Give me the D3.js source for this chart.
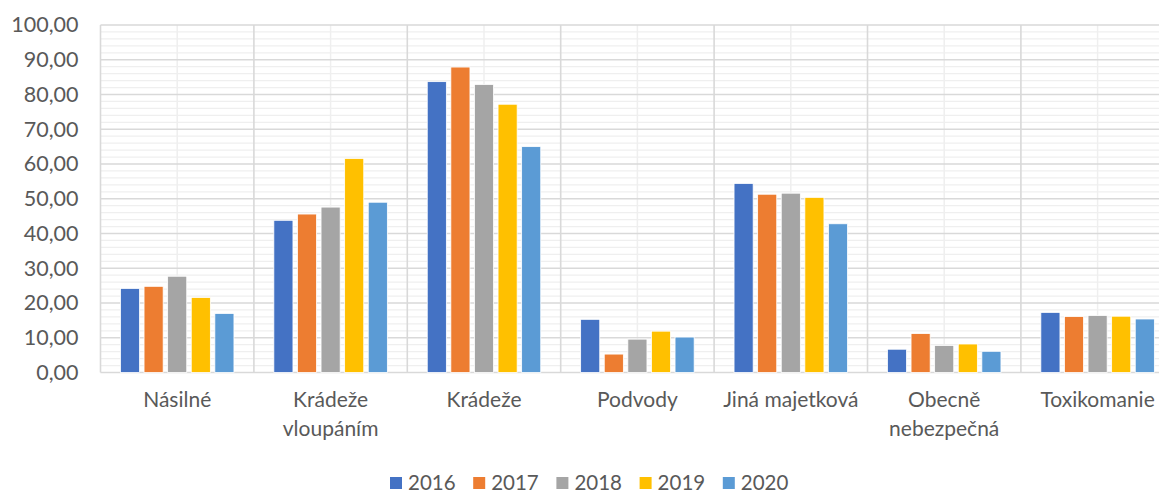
<!DOCTYPE html>
<html>
<head>
<meta charset="utf-8">
<script src="https://cdn.jsdelivr.net/npm/d3@7"></script>
<style>
  body { margin: 0; background: #fff; }
  text { font-family: Lato, "Open Sans", sans-serif; fill: #595959; }
</style>
</head>
<body>
<div id="main"></div>
<script>
// data
const categories = ["Násilné", "Krádeže vloupáním", "Krádeže", "Podvody", "Jiná majetková", "Obecně nebezpečná", "Toxikomanie"];
const years = ["2016", "2017", "2018", "2019", "2020"];
const values2016 = [24.2, 43.8, 83.7, 15.3, 54.4, 6.7, 17.3];
const values2017 = [24.8, 45.6, 87.9, 5.3, 51.3, 11.2, 16.1];
const values2018 = [27.7, 47.6, 82.9, 9.6, 51.6, 7.8, 16.4];
const values2019 = [21.6, 61.6, 77.2, 11.9, 50.4, 8.2, 16.2];
const values2020 = [17.0, 49.0, 65.0, 10.2, 42.8, 6.1, 15.4];
const yTicks = [0, 10, 20, 30, 40, 50, 60, 70, 80, 90, 100];
const colors = ["#4472C4", "#ED7D31", "#A5A5A5", "#FFC000", "#5B9BD5"];

const series = [values2016, values2017, values2018, values2019, values2020];

//size of the picture and plot area
const width = 1159;
const height = 494;
const plotLeft = 100.5;
const bandWidth = 153.4;
const plotTop = 25;
const plotBottom = 372.5;

const svg = d3.select('#main')
              .append('svg')
              .attr('width', width)
              .attr('height', height);

//scales
const xScale = d3.scaleBand()
                 .domain(categories)
                 .range([plotLeft, plotLeft + bandWidth * categories.length])
                 .padding(0);
const xInner = d3.scaleBand()
                 .domain(years)
                 .range([bandWidth * 0.13, bandWidth * 0.87])
                 .paddingInner(0.19)
                 .paddingOuter(0);
const yScale = d3.scaleLinear().domain([0, 100]).range([plotBottom, plotTop]);

const plotRight = xScale.range()[1];

//minor horizontal gridlines every 2
const minor = d3.range(0, 101, 2).filter(d => d % 10 != 0);
svg.append('g').selectAll('line').data(minor).enter()
   .append('line')
   .attr('x1', plotLeft).attr('x2', plotRight)
   .attr('y1', d => yScale(d)).attr('y2', d => yScale(d))
   .attr('stroke', '#efefef').attr('stroke-width', 1.3);

//minor vertical gridlines in the middle of each category
svg.append('g').selectAll('line').data(categories).enter()
   .append('line')
   .attr('x1', d => xScale(d) + xScale.bandwidth() / 2)
   .attr('x2', d => xScale(d) + xScale.bandwidth() / 2)
   .attr('y1', plotTop).attr('y2', plotBottom)
   .attr('stroke', '#efefef').attr('stroke-width', 1.5);

//major horizontal gridlines
svg.append('g').selectAll('line').data(yTicks).enter()
   .append('line')
   .attr('x1', plotLeft).attr('x2', plotRight)
   .attr('y1', d => yScale(d)).attr('y2', d => yScale(d))
   .attr('stroke', '#d9d9d9').attr('stroke-width', 1.6);

//major vertical gridlines at category borders
const borders = categories.map(d => xScale(d)).concat([plotRight]);
svg.append('g').selectAll('line').data(borders).enter()
   .append('line')
   .attr('x1', d => d).attr('x2', d => d)
   .attr('y1', plotTop).attr('y2', plotBottom)
   .attr('stroke', '#d9d9d9').attr('stroke-width', 1.6);

//y axis labels
const yAxis = d3.axisLeft(yScale)
                .tickValues(yTicks)
                .tickSize(0)
                .tickPadding(22)
                .tickFormat(d => d3.format('.2f')(d).replace('.', ','));
svg.append('g').attr('id', 'y-axis')
   .attr('transform', 'translate(' + plotLeft + ',0)')
   .call(yAxis)
   .call(g => g.select('.domain').remove())
   .selectAll('text')
   .style('font-size', '21.5px')
   .attr('fill', '#595959');

//bars
const groups = svg.append('g').selectAll('g').data(series).enter()
   .append('g')
   .attr('fill', (d, i) => colors[i]);

groups.selectAll('rect')
   .data((d, i) => d.map((v, j) => ({ cat: categories[j], year: years[i], value: v })))
   .enter().append('rect')
   .attr('x', d => xScale(d.cat) + xInner(d.year))
   .attr('width', xInner.bandwidth())
   .attr('y', d => yScale(d.value))
   .attr('height', d => plotBottom - yScale(d.value))
   .attr('stroke', '#fff')
   .attr('stroke-width', 0.8);

//x axis labels, wrapped if too wide
const xAxis = d3.axisBottom(xScale).tickSize(0).tickPadding(20);
svg.append('g').attr('id', 'x-axis')
   .attr('transform', 'translate(0,' + plotBottom + ')')
   .call(xAxis)
   .call(g => g.select('.domain').remove())
   .selectAll('text')
   .style('font-size', '21px')
   .attr('fill', '#595959')
   .each(function(d) {
     const t = d3.select(this);
     if (this.getComputedTextLength() > 150) {
       const words = d.split(' ');
       t.text(null);
       words.forEach((w, i) => {
         t.append('tspan').attr('x', 0).attr('dy', i == 0 ? '0.71em' : '1.36em').text(w);
       });
       t.attr('dy', null);
     }
   });

//legend
const legendX = 390;
const legendStep = 83.2;
const legend = svg.append('g').attr('id', 'legend')
   .selectAll('g').data(years).enter()
   .append('g')
   .attr('transform', (d, i) => 'translate(' + (legendX + i * legendStep) + ',' + 483 + ')');

legend.append('rect')
   .attr('x', 0).attr('y', -6)
   .attr('width', 12).attr('height', 12)
   .attr('fill', (d, i) => colors[i]);

legend.append('text')
   .attr('x', 18).attr('y', 0)
   .attr('dy', '0.35em')
   .style('font-size', '20.5px')
   .text(d => d);
</script>
</body>
</html>
